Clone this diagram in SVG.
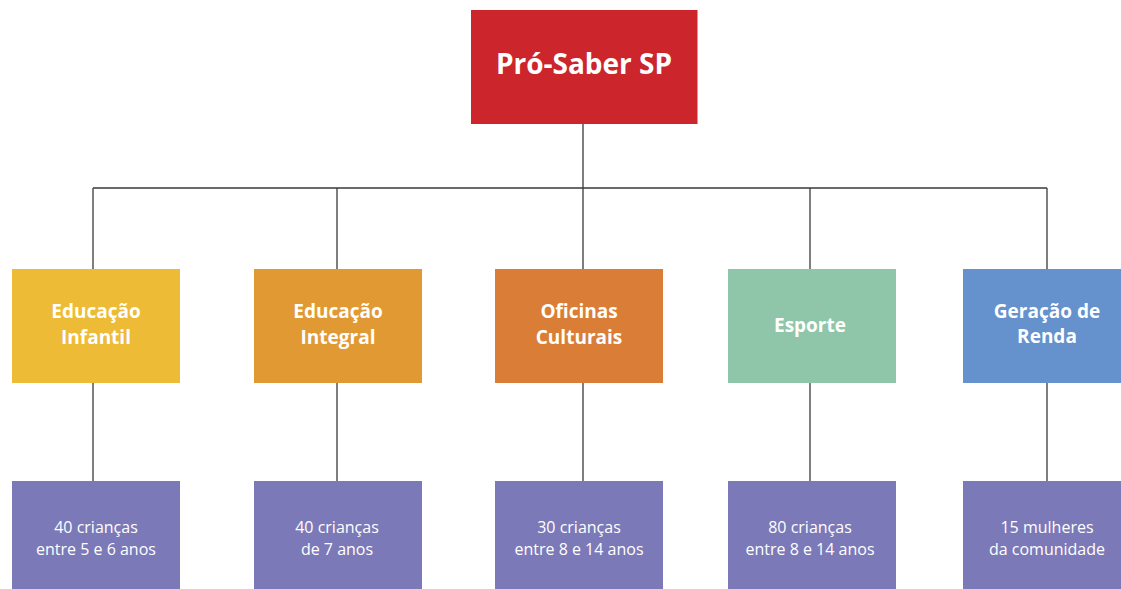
<svg xmlns="http://www.w3.org/2000/svg" width="1121" height="589" viewBox="0 0 1121 589">
<style>
.lbl{font-family:"Open Sans","Noto Sans",sans-serif;font-weight:700;fill:#fff;text-anchor:middle}
.sub{font-family:"Open Sans","Noto Sans",sans-serif;font-weight:400;fill:#fff;text-anchor:middle;font-size:16px}
.t{font-size:19px}
.conn{stroke:#3a3a3a;stroke-width:1.3;fill:none}
.p{fill:#7B79B7}
</style>
<rect width="1121" height="589" fill="#fff"/>
<g id="connectors">
<path class="conn" d="M583,124V188M93,188H1047M93,188V269M337,188V269M583,188V269M810,188V269M1047,188V269M93,383V481M337,383V481M583,383V481M810,383V481M1047,383V481"/>
</g>
<g id="root"><rect x="471" y="10" width="226.5" height="114" fill="#CC252B"/><text class="lbl" x="584" y="74" font-size="28">Pró-Saber SP</text></g>
<g id="n1"><rect x="12" y="269" width="168" height="114" fill="#EDBB35"/><text class="lbl t" x="96" y="318">Educação</text><text class="lbl t" x="96" y="344">Infantil</text></g>
<g id="n2"><rect x="254" y="269" width="168" height="114" fill="#E19A33"/><text class="lbl t" x="338" y="318">Educação</text><text class="lbl t" x="338" y="344">Integral</text></g>
<g id="n3"><rect x="495" y="269" width="168" height="114" fill="#DA7D37"/><text class="lbl t" x="579" y="318">Oficinas</text><text class="lbl t" x="579" y="344">Culturais</text></g>
<g id="n4"><rect x="728" y="269" width="168" height="114" fill="#8FC6AA"/><text class="lbl t" x="810" y="331.5">Esporte</text></g>
<g id="n5"><rect x="963" y="269" width="168" height="114" fill="#6592CC"/><text class="lbl t" x="1047" y="318">Geração de</text><text class="lbl t" x="1047" y="343">Renda</text></g>
<g id="b1"><rect class="p" x="12" y="481" width="168" height="108"/><text class="sub" x="96" y="533">40 crianças</text><text class="sub" x="96" y="555">entre 5 e 6 anos</text></g>
<g id="b2"><rect class="p" x="254" y="481" width="168" height="108"/><text class="sub" x="337" y="533">40 crianças</text><text class="sub" x="337" y="555">de 7 anos</text></g>
<g id="b3"><rect class="p" x="495" y="481" width="168" height="108"/><text class="sub" x="579" y="533">30 crianças</text><text class="sub" x="579" y="555">entre 8 e 14 anos</text></g>
<g id="b4"><rect class="p" x="728" y="481" width="168" height="108"/><text class="sub" x="810" y="533">80 crianças</text><text class="sub" x="810" y="555">entre 8 e 14 anos</text></g>
<g id="b5"><rect class="p" x="963" y="481" width="168" height="108"/><text class="sub" x="1047" y="533">15 mulheres</text><text class="sub" x="1047" y="555">da comunidade</text></g>
</svg>
